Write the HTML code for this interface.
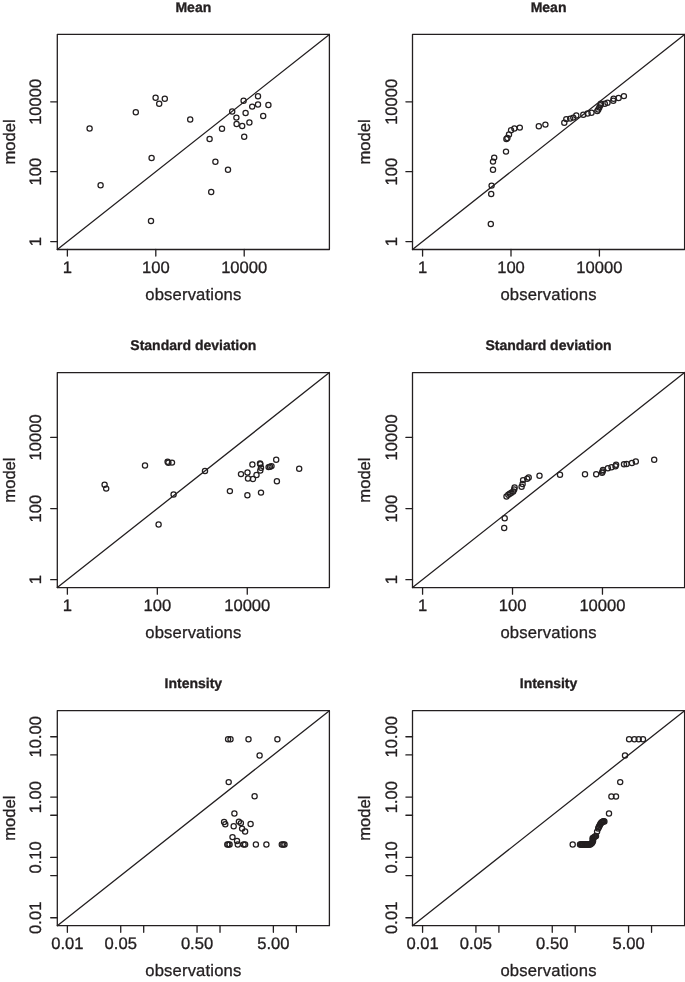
<!DOCTYPE html>
<html><head><meta charset="utf-8"><title>Model vs observations</title>
<style>html,body{margin:0;padding:0;background:#fff}svg{display:block;text-rendering:geometricPrecision;will-change:transform}text{stroke:#231f20;stroke-width:.32px;stroke-linejoin:round}</style>
</head><body>
<svg width="685" height="982" viewBox="0 0 685 982" font-family="'Liberation Sans', sans-serif" fill="#231f20">
<rect width="685" height="982" fill="#fff"/>
<g stroke="#231f20" stroke-width="1.3" fill="none" stroke-linecap="round" stroke-linejoin="round">
<rect x="57.3" y="34.45" width="272.1" height="215.05"/>
<line x1="57.3" y1="249.5" x2="329.4" y2="34.45"/>
<line x1="67.38" y1="249.5" x2="67.38" y2="256.1"/>
<line x1="155.8" y1="249.5" x2="155.8" y2="256.1"/>
<line x1="244.21" y1="249.5" x2="244.21" y2="256.1"/>
<line x1="57.3" y1="241.54" x2="50.7" y2="241.54"/>
<line x1="57.3" y1="171.66" x2="50.7" y2="171.66"/>
<line x1="57.3" y1="101.78" x2="50.7" y2="101.78"/>
</g>
<g stroke="#231f20" stroke-width="1.25" fill="none">
<circle cx="89.6" cy="128.4" r="2.6"/>
<circle cx="100.6" cy="185.2" r="2.6"/>
<circle cx="135.8" cy="112.2" r="2.6"/>
<circle cx="155.6" cy="97.8" r="2.6"/>
<circle cx="159.2" cy="103.8" r="2.6"/>
<circle cx="164.8" cy="98.8" r="2.6"/>
<circle cx="190.2" cy="119.4" r="2.6"/>
<circle cx="151.6" cy="158" r="2.6"/>
<circle cx="151" cy="221" r="2.6"/>
<circle cx="209.6" cy="139" r="2.6"/>
<circle cx="222" cy="128.8" r="2.6"/>
<circle cx="215.4" cy="161.8" r="2.6"/>
<circle cx="228" cy="169.8" r="2.6"/>
<circle cx="211.2" cy="192" r="2.6"/>
<circle cx="232.2" cy="111.4" r="2.6"/>
<circle cx="236.4" cy="117.6" r="2.6"/>
<circle cx="236.6" cy="124" r="2.6"/>
<circle cx="242.2" cy="126" r="2.6"/>
<circle cx="244.2" cy="136.8" r="2.6"/>
<circle cx="243.6" cy="100.8" r="2.6"/>
<circle cx="245.6" cy="113" r="2.6"/>
<circle cx="249.4" cy="122.4" r="2.6"/>
<circle cx="252.2" cy="106.6" r="2.6"/>
<circle cx="258" cy="96.2" r="2.6"/>
<circle cx="258" cy="104.4" r="2.6"/>
<circle cx="263.2" cy="116" r="2.6"/>
<circle cx="268.4" cy="105" r="2.6"/>
</g>
<text x="193.35" y="12.25" font-size="14" font-weight="bold" text-anchor="middle">Mean</text>
<g font-size="16.6" text-anchor="middle">
<text x="67.38" y="273">1</text>
<text x="155.8" y="273">100</text>
<text x="244.21" y="273">10000</text>
<text x="193.35" y="299.9"letter-spacing="0.18">observations</text>
<text transform="translate(41.35 241.54) rotate(-90)">1</text>
<text transform="translate(41.35 171.66) rotate(-90)">100</text>
<text transform="translate(41.35 101.78) rotate(-90)">10000</text>
<text transform="translate(14.6 141.97) rotate(-90)">model</text>
</g>
<g stroke="#231f20" stroke-width="1.3" fill="none" stroke-linecap="round" stroke-linejoin="round">
<rect x="412.5" y="34.45" width="272.1" height="215.05"/>
<line x1="412.5" y1="249.5" x2="684.6" y2="34.45"/>
<line x1="422.58" y1="249.5" x2="422.58" y2="256.1"/>
<line x1="511" y1="249.5" x2="511" y2="256.1"/>
<line x1="599.41" y1="249.5" x2="599.41" y2="256.1"/>
<line x1="412.5" y1="241.54" x2="405.9" y2="241.54"/>
<line x1="412.5" y1="171.66" x2="405.9" y2="171.66"/>
<line x1="412.5" y1="101.78" x2="405.9" y2="101.78"/>
</g>
<g stroke="#231f20" stroke-width="1.25" fill="none">
<circle cx="490.8" cy="224" r="2.6"/>
<circle cx="491.2" cy="194" r="2.6"/>
<circle cx="491.6" cy="185.6" r="2.6"/>
<circle cx="493" cy="169.8" r="2.6"/>
<circle cx="493" cy="161.6" r="2.6"/>
<circle cx="494.2" cy="157.6" r="2.6"/>
<circle cx="506" cy="151.6" r="2.6"/>
<circle cx="506.4" cy="139" r="2.6"/>
<circle cx="507.4" cy="138" r="2.6"/>
<circle cx="509" cy="134.4" r="2.6"/>
<circle cx="511" cy="130.2" r="2.6"/>
<circle cx="514.4" cy="128.4" r="2.6"/>
<circle cx="519.8" cy="127.6" r="2.6"/>
<circle cx="538.8" cy="126.2" r="2.6"/>
<circle cx="545.4" cy="124.6" r="2.6"/>
<circle cx="564.3" cy="122.7" r="2.6"/>
<circle cx="566.3" cy="119.1" r="2.6"/>
<circle cx="570.2" cy="118.6" r="2.6"/>
<circle cx="573.3" cy="117.6" r="2.6"/>
<circle cx="576.3" cy="115.5" r="2.6"/>
<circle cx="583.3" cy="114.7" r="2.6"/>
<circle cx="587.6" cy="113.5" r="2.6"/>
<circle cx="591.5" cy="112.7" r="2.6"/>
<circle cx="597.3" cy="110.9" r="2.6"/>
<circle cx="598.3" cy="109.4" r="2.6"/>
<circle cx="599.3" cy="107.4" r="2.6"/>
<circle cx="600.4" cy="105.3" r="2.6"/>
<circle cx="600.9" cy="103.8" r="2.6"/>
<circle cx="604.8" cy="103.8" r="2.6"/>
<circle cx="607.5" cy="102.8" r="2.6"/>
<circle cx="613.3" cy="100.7" r="2.6"/>
<circle cx="613.6" cy="98.7" r="2.6"/>
<circle cx="618.6" cy="98" r="2.6"/>
<circle cx="623.9" cy="96.1" r="2.6"/>
</g>
<text x="548.55" y="12.25" font-size="14" font-weight="bold" text-anchor="middle">Mean</text>
<g font-size="16.6" text-anchor="middle">
<text x="422.58" y="273">1</text>
<text x="511" y="273">100</text>
<text x="599.41" y="273">10000</text>
<text x="548.55" y="299.9"letter-spacing="0.18">observations</text>
<text transform="translate(396.55 241.54) rotate(-90)">1</text>
<text transform="translate(396.55 171.66) rotate(-90)">100</text>
<text transform="translate(396.55 101.78) rotate(-90)">10000</text>
<text transform="translate(369.8 141.97) rotate(-90)">model</text>
</g>
<g stroke="#231f20" stroke-width="1.3" fill="none" stroke-linecap="round" stroke-linejoin="round">
<rect x="57.3" y="372.55" width="272.1" height="215.05"/>
<line x1="57.3" y1="587.6" x2="329.4" y2="372.55"/>
<line x1="67.38" y1="587.6" x2="67.38" y2="594.2"/>
<line x1="157.32" y1="587.6" x2="157.32" y2="594.2"/>
<line x1="247.27" y1="587.6" x2="247.27" y2="594.2"/>
<line x1="57.3" y1="579.64" x2="50.7" y2="579.64"/>
<line x1="57.3" y1="508.55" x2="50.7" y2="508.55"/>
<line x1="57.3" y1="437.46" x2="50.7" y2="437.46"/>
</g>
<g stroke="#231f20" stroke-width="1.25" fill="none">
<circle cx="104.6" cy="484.8" r="2.6"/>
<circle cx="106.2" cy="488.6" r="2.6"/>
<circle cx="145" cy="465.4" r="2.6"/>
<circle cx="167.6" cy="461.8" r="2.6"/>
<circle cx="168.4" cy="462.8" r="2.6"/>
<circle cx="172" cy="462.6" r="2.6"/>
<circle cx="173.6" cy="494.4" r="2.6"/>
<circle cx="158.6" cy="524.4" r="2.6"/>
<circle cx="205" cy="471" r="2.6"/>
<circle cx="229.9" cy="491.1" r="2.6"/>
<circle cx="241" cy="474.1" r="2.6"/>
<circle cx="247.4" cy="495.2" r="2.6"/>
<circle cx="247.5" cy="472.4" r="2.6"/>
<circle cx="248" cy="478.4" r="2.6"/>
<circle cx="253" cy="479" r="2.6"/>
<circle cx="252.4" cy="464.5" r="2.6"/>
<circle cx="256.5" cy="475" r="2.6"/>
<circle cx="260" cy="463.4" r="2.6"/>
<circle cx="260.4" cy="464.2" r="2.6"/>
<circle cx="261" cy="467.8" r="2.6"/>
<circle cx="260.3" cy="470.4" r="2.6"/>
<circle cx="261" cy="492.6" r="2.6"/>
<circle cx="268.6" cy="467.1" r="2.6"/>
<circle cx="270" cy="466.7" r="2.6"/>
<circle cx="271.5" cy="466.1" r="2.6"/>
<circle cx="276.2" cy="459.7" r="2.6"/>
<circle cx="276.9" cy="481.3" r="2.6"/>
<circle cx="299.2" cy="468.7" r="2.6"/>
</g>
<text x="193.35" y="350.35" font-size="14" font-weight="bold" text-anchor="middle">Standard deviation</text>
<g font-size="16.6" text-anchor="middle">
<text x="67.38" y="611.1">1</text>
<text x="157.32" y="611.1">100</text>
<text x="247.27" y="611.1">10000</text>
<text x="193.35" y="638"letter-spacing="0.18">observations</text>
<text transform="translate(41.35 579.64) rotate(-90)">1</text>
<text transform="translate(41.35 508.55) rotate(-90)">100</text>
<text transform="translate(41.35 437.46) rotate(-90)">10000</text>
<text transform="translate(14.6 480.08) rotate(-90)">model</text>
</g>
<g stroke="#231f20" stroke-width="1.3" fill="none" stroke-linecap="round" stroke-linejoin="round">
<rect x="412.5" y="372.55" width="272.1" height="215.05"/>
<line x1="412.5" y1="587.6" x2="684.6" y2="372.55"/>
<line x1="422.58" y1="587.6" x2="422.58" y2="594.2"/>
<line x1="512.52" y1="587.6" x2="512.52" y2="594.2"/>
<line x1="602.47" y1="587.6" x2="602.47" y2="594.2"/>
<line x1="412.5" y1="579.64" x2="405.9" y2="579.64"/>
<line x1="412.5" y1="508.55" x2="405.9" y2="508.55"/>
<line x1="412.5" y1="437.46" x2="405.9" y2="437.46"/>
</g>
<g stroke="#231f20" stroke-width="1.25" fill="none">
<circle cx="504.2" cy="527.9" r="2.6"/>
<circle cx="504.7" cy="518.3" r="2.6"/>
<circle cx="506.5" cy="496.4" r="2.6"/>
<circle cx="508.3" cy="494.8" r="2.6"/>
<circle cx="509.8" cy="493.8" r="2.6"/>
<circle cx="511.4" cy="492.8" r="2.6"/>
<circle cx="513.2" cy="491.4" r="2.6"/>
<circle cx="514.2" cy="489.5" r="2.6"/>
<circle cx="514.6" cy="487.5" r="2.6"/>
<circle cx="521.6" cy="486.8" r="2.6"/>
<circle cx="522.6" cy="483.9" r="2.6"/>
<circle cx="523.1" cy="480.1" r="2.6"/>
<circle cx="527.2" cy="478.8" r="2.6"/>
<circle cx="528.7" cy="477.5" r="2.6"/>
<circle cx="539.5" cy="475.8" r="2.6"/>
<circle cx="560" cy="474.7" r="2.6"/>
<circle cx="585" cy="474.2" r="2.6"/>
<circle cx="596.2" cy="474.2" r="2.6"/>
<circle cx="602.1" cy="472.8" r="2.6"/>
<circle cx="602.6" cy="471.5" r="2.6"/>
<circle cx="603" cy="470" r="2.6"/>
<circle cx="607.9" cy="468.2" r="2.6"/>
<circle cx="611.5" cy="467.3" r="2.6"/>
<circle cx="615.5" cy="466.3" r="2.6"/>
<circle cx="616.1" cy="464.7" r="2.6"/>
<circle cx="624" cy="464.3" r="2.6"/>
<circle cx="626.6" cy="463.9" r="2.6"/>
<circle cx="631.9" cy="463" r="2.6"/>
<circle cx="635.8" cy="461.4" r="2.6"/>
<circle cx="654.2" cy="459.7" r="2.6"/>
</g>
<text x="548.55" y="350.35" font-size="14" font-weight="bold" text-anchor="middle">Standard deviation</text>
<g font-size="16.6" text-anchor="middle">
<text x="422.58" y="611.1">1</text>
<text x="512.52" y="611.1">100</text>
<text x="602.47" y="611.1">10000</text>
<text x="548.55" y="638"letter-spacing="0.18">observations</text>
<text transform="translate(396.55 579.64) rotate(-90)">1</text>
<text transform="translate(396.55 508.55) rotate(-90)">100</text>
<text transform="translate(396.55 437.46) rotate(-90)">10000</text>
<text transform="translate(369.8 480.08) rotate(-90)">model</text>
</g>
<g stroke="#231f20" stroke-width="1.3" fill="none" stroke-linecap="round" stroke-linejoin="round">
<rect x="57.3" y="710.65" width="272.1" height="215.05"/>
<line x1="57.3" y1="925.7" x2="329.4" y2="710.65"/>
<line x1="67.38" y1="925.7" x2="67.38" y2="932.3"/>
<line x1="120.73" y1="925.7" x2="120.73" y2="932.3"/>
<line x1="143.7" y1="925.7" x2="143.7" y2="932.3"/>
<line x1="197.05" y1="925.7" x2="197.05" y2="932.3"/>
<line x1="220.02" y1="925.7" x2="220.02" y2="932.3"/>
<line x1="273.37" y1="925.7" x2="273.37" y2="932.3"/>
<line x1="296.35" y1="925.7" x2="296.35" y2="932.3"/>
<line x1="57.3" y1="917.74" x2="50.7" y2="917.74"/>
<line x1="57.3" y1="875.57" x2="50.7" y2="875.57"/>
<line x1="57.3" y1="857.41" x2="50.7" y2="857.41"/>
<line x1="57.3" y1="815.25" x2="50.7" y2="815.25"/>
<line x1="57.3" y1="797.09" x2="50.7" y2="797.09"/>
<line x1="57.3" y1="754.93" x2="50.7" y2="754.93"/>
<line x1="57.3" y1="736.77" x2="50.7" y2="736.77"/>
</g>
<g stroke="#231f20" stroke-width="1.25" fill="none">
<circle cx="228.1" cy="739.3" r="2.6"/>
<circle cx="230.5" cy="739.3" r="2.6"/>
<circle cx="248.5" cy="739.3" r="2.6"/>
<circle cx="277.4" cy="739.3" r="2.6"/>
<circle cx="259.6" cy="755.5" r="2.6"/>
<circle cx="228.7" cy="782.1" r="2.6"/>
<circle cx="254.6" cy="796.3" r="2.6"/>
<circle cx="234.4" cy="813.4" r="2.6"/>
<circle cx="224.1" cy="822" r="2.6"/>
<circle cx="225.3" cy="824.3" r="2.6"/>
<circle cx="238.9" cy="821.6" r="2.6"/>
<circle cx="240.9" cy="823.1" r="2.6"/>
<circle cx="250.6" cy="823.9" r="2.6"/>
<circle cx="233.7" cy="826.3" r="2.6"/>
<circle cx="242.1" cy="828.6" r="2.6"/>
<circle cx="245.1" cy="831.5" r="2.6"/>
<circle cx="232.5" cy="837.1" r="2.6"/>
<circle cx="237" cy="840.9" r="2.6"/>
<circle cx="227.3" cy="844.5" r="2.6"/>
<circle cx="228.4" cy="844.5" r="2.6"/>
<circle cx="229.6" cy="844.5" r="2.6"/>
<circle cx="237.8" cy="844.5" r="2.6"/>
<circle cx="243.6" cy="844.5" r="2.6"/>
<circle cx="245.1" cy="844.5" r="2.6"/>
<circle cx="255.9" cy="844.5" r="2.6"/>
<circle cx="266.4" cy="844.5" r="2.6"/>
<circle cx="281.8" cy="844.5" r="2.6"/>
<circle cx="283.3" cy="844.5" r="2.6"/>
<circle cx="284.5" cy="844.5" r="2.6"/>
</g>
<text x="193.35" y="688.45" font-size="14" font-weight="bold" text-anchor="middle">Intensity</text>
<g font-size="16.6" text-anchor="middle">
<text x="67.38" y="949.2">0.01</text>
<text x="120.73" y="949.2">0.05</text>
<text x="197.05" y="949.2">0.50</text>
<text x="273.37" y="949.2">5.00</text>
<text x="193.35" y="976.1"letter-spacing="0.18">observations</text>
<text transform="translate(41.35 917.74) rotate(-90)">0.01</text>
<text transform="translate(41.35 857.41) rotate(-90)">0.10</text>
<text transform="translate(41.35 797.09) rotate(-90)">1.00</text>
<text transform="translate(41.35 736.77) rotate(-90)">10.00</text>
<text transform="translate(14.6 818.17) rotate(-90)">model</text>
</g>
<g stroke="#231f20" stroke-width="1.3" fill="none" stroke-linecap="round" stroke-linejoin="round">
<rect x="412.5" y="710.65" width="272.1" height="215.05"/>
<line x1="412.5" y1="925.7" x2="684.6" y2="710.65"/>
<line x1="422.58" y1="925.7" x2="422.58" y2="932.3"/>
<line x1="475.93" y1="925.7" x2="475.93" y2="932.3"/>
<line x1="498.9" y1="925.7" x2="498.9" y2="932.3"/>
<line x1="552.25" y1="925.7" x2="552.25" y2="932.3"/>
<line x1="575.22" y1="925.7" x2="575.22" y2="932.3"/>
<line x1="628.57" y1="925.7" x2="628.57" y2="932.3"/>
<line x1="651.55" y1="925.7" x2="651.55" y2="932.3"/>
<line x1="412.5" y1="917.74" x2="405.9" y2="917.74"/>
<line x1="412.5" y1="875.57" x2="405.9" y2="875.57"/>
<line x1="412.5" y1="857.41" x2="405.9" y2="857.41"/>
<line x1="412.5" y1="815.25" x2="405.9" y2="815.25"/>
<line x1="412.5" y1="797.09" x2="405.9" y2="797.09"/>
<line x1="412.5" y1="754.93" x2="405.9" y2="754.93"/>
<line x1="412.5" y1="736.77" x2="405.9" y2="736.77"/>
</g>
<g stroke="#231f20" stroke-width="1.25" fill="none">
<circle cx="629.1" cy="739.3" r="2.6"/>
<circle cx="634.4" cy="739.3" r="2.6"/>
<circle cx="638.7" cy="739.3" r="2.6"/>
<circle cx="643" cy="739.3" r="2.6"/>
<circle cx="625" cy="755.5" r="2.6"/>
<circle cx="620.2" cy="782.1" r="2.6"/>
<circle cx="611.4" cy="796.4" r="2.6"/>
<circle cx="616" cy="796.4" r="2.6"/>
<circle cx="609" cy="813.4" r="2.6"/>
<circle cx="572.7" cy="844.4" r="2.6"/>
<circle cx="580" cy="844.4" r="2.6"/>
<circle cx="580.73" cy="844.4" r="2.6"/>
<circle cx="581.46" cy="844.4" r="2.6"/>
<circle cx="582.19" cy="844.4" r="2.6"/>
<circle cx="582.92" cy="844.4" r="2.6"/>
<circle cx="583.65" cy="844.4" r="2.6"/>
<circle cx="584.38" cy="844.4" r="2.6"/>
<circle cx="585.11" cy="844.4" r="2.6"/>
<circle cx="585.84" cy="844.4" r="2.6"/>
<circle cx="586.57" cy="844.4" r="2.6"/>
<circle cx="587.3" cy="844.4" r="2.6"/>
<circle cx="588.03" cy="844.4" r="2.6"/>
<circle cx="588.76" cy="844.4" r="2.6"/>
<circle cx="589.49" cy="844.4" r="2.6"/>
<circle cx="590.22" cy="844.4" r="2.6"/>
<circle cx="591.2" cy="843.8" r="2.6"/>
<circle cx="592" cy="843" r="2.6"/>
<circle cx="592.6" cy="841.9" r="2.6"/>
<circle cx="593.1" cy="840.8" r="2.6"/>
<circle cx="592.8" cy="839.4" r="2.6"/>
<circle cx="592.6" cy="838.2" r="2.6"/>
<circle cx="593.4" cy="837.6" r="2.6"/>
<circle cx="594.2" cy="837.1" r="2.6"/>
<circle cx="595.1" cy="836.5" r="2.6"/>
<circle cx="596" cy="836" r="2.6"/>
<circle cx="597.1" cy="831.6" r="2.6"/>
<circle cx="598.2" cy="828.4" r="2.6"/>
<circle cx="598.7" cy="827.3" r="2.6"/>
<circle cx="599.3" cy="826.2" r="2.6"/>
<circle cx="599.8" cy="825.1" r="2.6"/>
<circle cx="600.4" cy="824" r="2.6"/>
<circle cx="600.9" cy="823.2" r="2.6"/>
<circle cx="601.5" cy="822.5" r="2.6"/>
<circle cx="602.2" cy="821.9" r="2.6"/>
<circle cx="603" cy="821.4" r="2.6"/>
<circle cx="603.7" cy="821.3" r="2.6"/>
<circle cx="604.4" cy="821.4" r="2.6"/>
</g>
<text x="548.55" y="688.45" font-size="14" font-weight="bold" text-anchor="middle">Intensity</text>
<g font-size="16.6" text-anchor="middle">
<text x="422.58" y="949.2">0.01</text>
<text x="475.93" y="949.2">0.05</text>
<text x="552.25" y="949.2">0.50</text>
<text x="628.57" y="949.2">5.00</text>
<text x="548.55" y="976.1"letter-spacing="0.18">observations</text>
<text transform="translate(396.55 917.74) rotate(-90)">0.01</text>
<text transform="translate(396.55 857.41) rotate(-90)">0.10</text>
<text transform="translate(396.55 797.09) rotate(-90)">1.00</text>
<text transform="translate(396.55 736.77) rotate(-90)">10.00</text>
<text transform="translate(369.8 818.17) rotate(-90)">model</text>
</g>
</svg>
</body></html>
